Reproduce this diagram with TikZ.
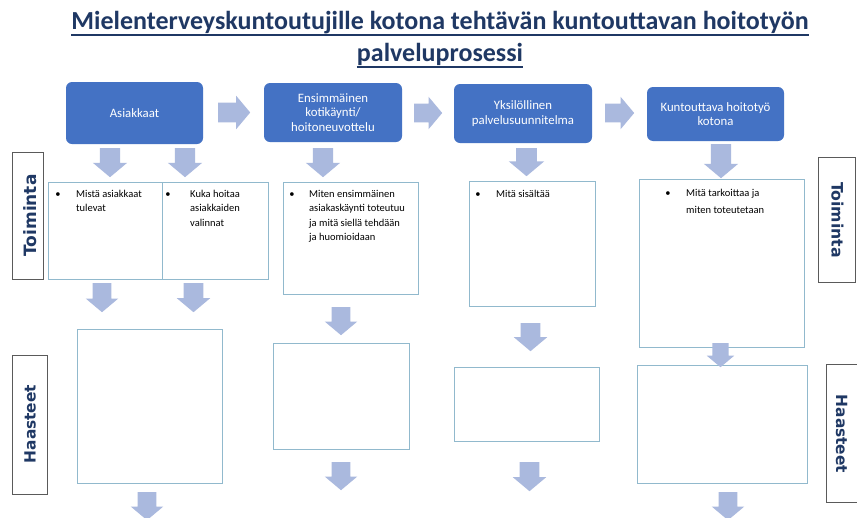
\documentclass[tikz,border=0pt]{standalone}
\usepackage{fontspec}
\setmainfont{Carlito}
\newfontfamily\lblfont{DejaVu Sans}
\usetikzlibrary{shapes.arrows}
\definecolor{titlec}{RGB}{31,56,100}
\definecolor{boxblue}{RGB}{68,114,196}
\definecolor{arrowc}{RGB}{170,185,222}
\definecolor{outlinec}{RGB}{145,185,205}
\definecolor{lblborder}{RGB}{90,90,90}
\newcommand\toplines[1]{\vtop{\halign{##\hfil\cr #1\crcr}}}
\tikzset{
  titletxt/.style={text=titlec, font=\bfseries\fontsize{26}{30}\selectfont, inner sep=0, anchor=base},
  hdr/.style={rectangle, rounded corners=6, fill=boxblue, text=white, align=center,
    font=\fontsize{12.8}{14.5}\selectfont, inner sep=0},
  pbox/.style={rectangle, draw=outlinec, line width=0.9, fill=white, inner sep=0},
  lbl/.style={rectangle, draw=lblborder, line width=0.9, fill=white, inner sep=0},
  lbltxt/.style={text=titlec, inner sep=0},
  btxt/.style={font=\fontsize{10.5}{14.4}\selectfont, inner sep=0, anchor=base west},
  bul/.style={font=\fontsize{10.5}{14.4}\selectfont, inner sep=0, anchor=base},
  blk/.style={single arrow, fill=arrowc, draw=none, inner xsep=0, single arrow tip angle=100, anchor=tail},
}
\newcommand\blkarr[6]{%
  \node[blk, rotate=#4, minimum height=#5, inner ysep={0.29*#6}, single arrow head extend={0.21*#6}] (#1) at (#2,#3) {};}
\begin{document}
\begin{tikzpicture}[x=1pt,y=-1pt]
\useasboundingbox (0,0) rectangle (857,517);
\clip (0,0) rectangle (857,517);
\fill[white] (0,0) rectangle (857,517);

% title
\node[titletxt] (t1) at (440,29.5) {Mielenterveyskuntoutujille kotona tehtävän kuntouttavan hoitotyön};
\node[titletxt] (t2) at (440,61.5) {palveluprosessi};
\draw[titlec, line width=1.6] ([yshift=-5.5pt]t1.base west) -- ([yshift=-5.5pt]t1.base east);
\draw[titlec, line width=1.6] ([yshift=-5.5pt]t2.base west) -- ([yshift=-5.5pt]t2.base east);

% header boxes
\node[hdr, minimum width=137, minimum height=62] (b1) at (134.5,113) {Asiakkaat};
\node[hdr, minimum width=138, minimum height=59] (b2) at (333,112.5) {Ensimmäinen\\kotikäynti/\\hoitoneuvottelu};
\node[hdr, minimum width=138, minimum height=59] (b3) at (523,113.5) {Yksilöllinen\\palvelusuunnitelma};
\node[hdr, minimum width=137, minimum height=54] (b4) at (715.5,114) {Kuntouttava hoitotyö\\kotona};

% action boxes
\node[pbox, minimum width=114, minimum height=97] (a1) at (105,230.5) {};
\node[pbox, minimum width=106, minimum height=97] (a2) at (215,230.5) {};
\node[pbox, minimum width=135, minimum height=112] (ab) at (350.5,238) {};
\node[pbox, minimum width=126, minimum height=125] (ac) at (532,243.5) {};
\node[pbox, minimum width=165, minimum height=168] (ad) at (721.5,263) {};

% challenge boxes
\node[pbox, minimum width=145, minimum height=154] (h1) at (149.5,406) {};
\node[pbox, minimum width=136, minimum height=106] (h2) at (341,396) {};
\node[pbox, minimum width=145, minimum height=74] (h3) at (526.5,404) {};
\node[pbox, minimum width=170, minimum height=118] (h4) at (722,424) {};

% side labels
\node[lbl, minimum width=31, minimum height=127] (lt) at (27.5,215.5) {};
\node[lbltxt, rotate=90, font=\lblfont\bfseries\fontsize{17}{17}\selectfont] (ltt) at (30,215.5) {Toiminta};
\node[lbl, minimum width=37, minimum height=125] (rt) at (836.5,219.5) {};
\node[lbltxt, rotate=-90, font=\lblfont\bfseries\fontsize{15.7}{16}\selectfont] (rtt) at (837.5,220) {Toiminta};
\node[lbl, minimum width=35, minimum height=139] (lh) at (29.5,424.5) {};
\node[lbltxt, rotate=90, font=\lblfont\bfseries\fontsize{15.4}{16}\selectfont] (lht) at (30,424) {Haasteet};
\node[lbl, minimum width=34, minimum height=138] (rh) at (843,433) {};
\node[lbltxt, rotate=-90, font=\lblfont\bfseries\fontsize{15.4}{16}\selectfont] (rht) at (841.5,434) {Haasteet};

% bullet texts
\node[bul] (u1) at (58,197.5) {\textbullet};
\node[btxt] (x1) at (76,197.5) {\toplines{Mistä asiakkaat\cr tulevat}};
\node[bul] (u2) at (168,197.5) {\textbullet};
\node[btxt] (x2) at (190,197.5) {\toplines{Kuka hoitaa\cr asiakkaiden\cr valinnat}};
\node[bul] (u3) at (292,197.5) {\textbullet};
\node[btxt] (x3) at (309,197.5) {\toplines{Miten ensimmäinen\cr asiakaskäynti toteutuu\cr ja mitä siellä tehdään\cr ja huomioidaan}};
\node[bul] (u4) at (478,197) {\textbullet};
\node[btxt] (x4) at (496,197) {Mitä sisältää};
\node[bul] (u5) at (668,196) {\textbullet};
\node[btxt, font=\fontsize{10.5}{17.5}\selectfont] (x5) at (686,196) {\toplines{Mitä tarkoittaa ja\cr miten toteutetaan}};

% block arrows: right
\blkarr{r1}{218}{112.5}{0}{32}{33}
\blkarr{r2}{414}{113}{0}{28}{32}
\blkarr{r3}{605}{113}{0}{29}{32}
% block arrows: down, row 1
\blkarr{d1}{110}{148}{-90}{29}{34}
\blkarr{d2}{185}{148}{-90}{29}{34}
\blkarr{d3}{323}{148}{-90}{29}{34}
\blkarr{d4}{526.5}{148}{-90}{28}{35}
\blkarr{d5}{721}{144}{-90}{34}{34}
% row 2
\blkarr{e1}{102}{283}{-90}{29}{32}
\blkarr{e2}{193.5}{283}{-90}{29}{33}
\blkarr{e3}{341}{307}{-90}{28}{32}
\blkarr{e4}{530.5}{323}{-90}{28}{33}
\blkarr{e5}{720.5}{343}{-90}{24}{27}
% row 3
\blkarr{f1}{147}{492}{-90}{28}{32}
\blkarr{f2}{341}{462}{-90}{28}{32}
\blkarr{f3}{529.5}{462}{-90}{29}{33}
\blkarr{f4}{728}{492}{-90}{28}{32}
\end{tikzpicture}
\end{document}
